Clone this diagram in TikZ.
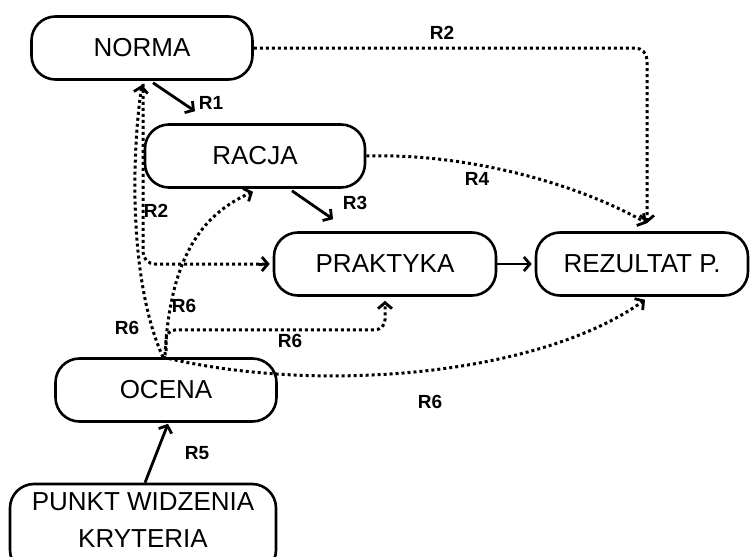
\documentclass[tikz,border=0pt]{standalone}
\usepackage{fontspec}
\setmainfont{Liberation Sans}
\usetikzlibrary{arrows.meta,calc}
\tikzset{
	box/.style={draw, line width=2.6pt, rounded corners=24pt, minimum height=63pt, inner sep=2pt, font=\fontsize{26}{37}\selectfont},
	tip/.style={-{Straight Barb[length=6pt,width=14pt,line width=2.8pt]}},
	flow/.style={line width=2.8pt, tip},
	rel/.style={line width=3pt, dash pattern=on 3pt off 3pt, tip},
	lab/.style={font=\fontsize{19}{19}\bfseries\selectfont}
}
\begin{document}
\begin{tikzpicture}[x=1pt,y=1pt]
	\useasboundingbox (0,0) rectangle (750,-557);
	\node[box, minimum width=221pt] (norma) at (142,-48) {NORMA};
	\node[box, minimum width=220pt] (racja) at (255,-156) {RACJA};
	\node[box, minimum width=222pt] (praktyka) at (385,-264) {PRAKTYKA};
	\node[box, minimum width=212pt] (rezultat) at (642,-264) {REZULTAT P.};
	\node[box, minimum width=221pt] (ocena) at (166,-390) {OCENA};
	\node[box, minimum width=266pt, minimum height=90pt, text depth=18pt, align=center] (punkt) at (143,-529) {PUNKT WIDZENIA\\KRYTERIA};
	\draw[flow] ([xshift=11pt,yshift=-2pt]norma.south) -- ([xshift=-60pt,yshift=12pt]racja.north);
	\draw[flow] ([xshift=37pt,yshift=-2pt]racja.south) -- ([xshift=-52pt,yshift=12pt]praktyka.north);
	\draw[flow] (praktyka.east) -- ([xshift=-3pt]rezultat.west);
	\draw[flow] ([xshift=2pt]punkt.north) -- ([xshift=2pt,yshift=-1pt]ocena.south);
	\draw[rel, rounded corners=12pt] (norma.east) -| ([xshift=5pt,yshift=8pt]rezultat.north);
	\draw[rel] (racja.east) .. controls (460,-153) and (570,-180) .. ([xshift=5pt,yshift=8pt]rezultat.north);
	\draw[rel, rounded corners=12pt, -] ([xshift=1pt,yshift=-3pt]norma.south) |- ([xshift=-5pt]praktyka.west);
	\draw[rel] ($(praktyka.west)+(-14pt,0)$) -- ([xshift=-3pt]praktyka.west);
	\draw[rel] ([xshift=-3pt]ocena.north) .. controls (128,-280) and (132,-150) .. ([yshift=-4pt]norma.south);
	\draw[rel] ([xshift=-1pt,yshift=2pt]ocena.north) .. controls (170,-260) and (200,-215) .. ([xshift=-2pt,yshift=-3pt]racja.south);
	\draw[rel, rounded corners=10pt] ([yshift=6pt]ocena.north) |- ([yshift=-33pt]praktyka.south) -- ([yshift=-4pt]praktyka.south);
	\draw[rel] ([xshift=-3pt]ocena.north) .. controls (320,-395) and (540,-375) .. ([xshift=3pt,yshift=-3pt]rezultat.south);
	\node[lab] (r1) at (211,-103) {R1};
	\node[lab] (r2a) at (442,-33) {R2};
	\node[lab] (r2b) at (156,-211) {R2};
	\node[lab] (r3) at (355,-203) {R3};
	\node[lab] (r4) at (477,-179) {R4};
	\node[lab] (r5) at (197,-453) {R5};
	\node[lab] (r6a) at (127,-328) {R6};
	\node[lab] (r6b) at (184,-306) {R6};
	\node[lab] (r6c) at (290,-341) {R6};
	\node[lab] (r6d) at (430,-402) {R6};
\end{tikzpicture}
\end{document}
